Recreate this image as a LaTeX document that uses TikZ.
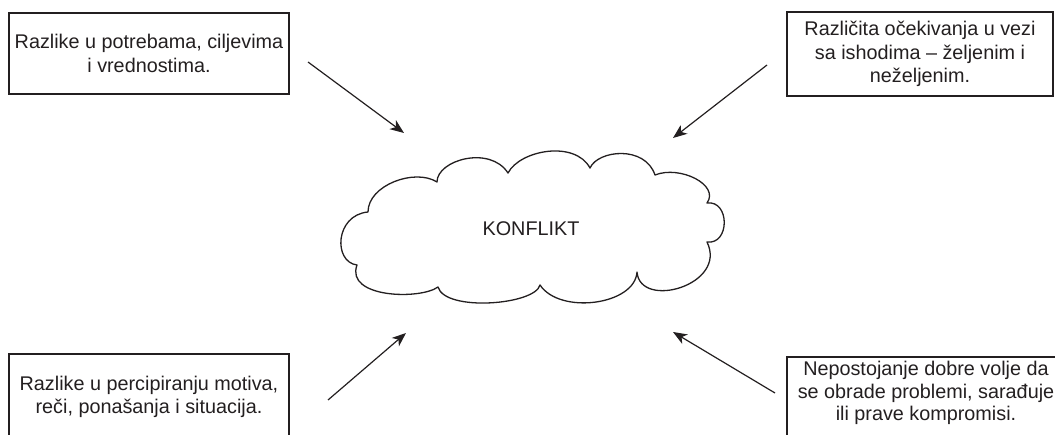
\documentclass[tikz,border=0pt]{standalone}
\usepackage{fontspec}
\setmainfont{Liberation Sans}
\usetikzlibrary{arrows.meta}
\definecolor{ink}{RGB}{35,31,32}
\begin{document}
\begin{tikzpicture}[x=1pt,y=-1pt,
  txt/.style={align=center, text=ink, font=\fontsize{19.8}{23.5}\selectfont, inner sep=0pt},
  box/.style={txt, draw=ink, line width=1.2pt},
  boxline/.style={draw=ink, line width=1.2pt},
  cloudline/.style={draw=ink, line width=1.3pt, line join=round},
  arr/.style={draw=ink, line width=1.2pt, -{Stealth[length=14pt,width=11pt,inset=4pt]}}]
\useasboundingbox (0,0) rectangle (1055,435);
\clip (0,0) rectangle (1055,435);

% cloud
\draw[cloudline]
  (357,265) .. controls (333,262) and (335,215) .. (368,212)
            .. controls (368,185) and (415,168) .. (437,182)
            .. controls (437,160) and (490,145) .. (508,173)
            .. controls (520,150) and (575,140) .. (590,168)
            .. controls (598,150) and (645,145) .. (655,175)
            .. controls (680,165) and (720,185) .. (707,203)
            .. controls (730,200) and (730,245) .. (707,242)
            .. controls (728,285) and (640,310) .. (637,272)
            .. controls (635,305) and (560,315) .. (540,285)
            .. controls (535,305) and (445,312) .. (438,287)
            .. controls (420,300) and (345,298) .. (357,265) -- cycle;
\node[txt] (konf) at (531,229) {KONFLIKT};

% boxes
\node[box, minimum width=280pt, minimum height=81pt] (tl) at (149,53.5)
  {Razlike u potrebama, ciljevima\\i vrednostima.};
\node[box, minimum width=266pt, minimum height=84pt] (tr) at (920,54)
  {Različita očekivanja u vezi\\sa ishodima – željenim i\\neželjenim.};
\node[box, minimum width=280pt, minimum height=86pt] (bl) at (149,397)
  {Razlike u percipiranju motiva,\\reči, ponašanja i situacija.};
\draw[boxline] (787,357) rectangle (1075,450);
\node[txt, font=\fontsize{19.8}{22.5}\selectfont] (br) at (926,393)
  {Nepostojanje dobre volje da\\se obrade problemi, sarađuje\\ili prave kompromisi.};

% arrows
\coordinate (a1s) at (308,62);  \coordinate (a1e) at (404,133);
\coordinate (a2s) at (767,65);  \coordinate (a2e) at (673,138);
\coordinate (a3s) at (328,400); \coordinate (a3e) at (406,333);
\coordinate (a4s) at (775,393); \coordinate (a4e) at (673,332);
\draw[arr] (a1s) -- (a1e);
\draw[arr] (a2s) -- (a2e);
\draw[arr] (a3s) -- (a3e);
\draw[arr] (a4s) -- (a4e);
\end{tikzpicture}
\end{document}
